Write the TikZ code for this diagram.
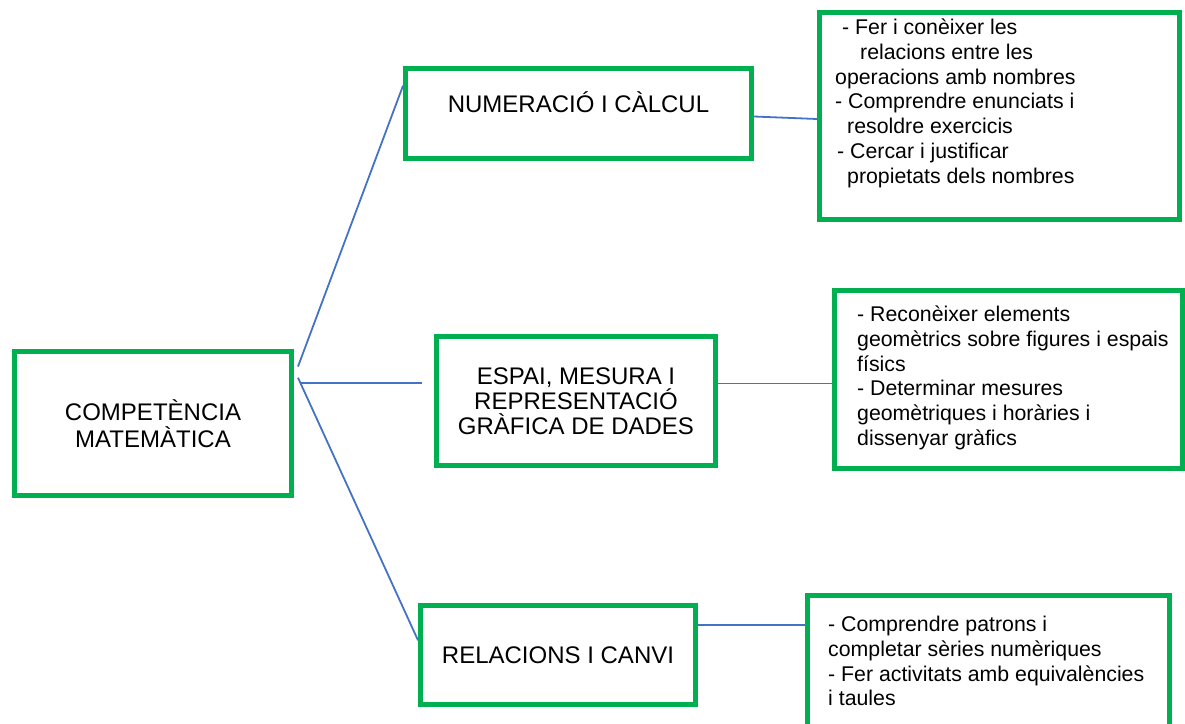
\documentclass[tikz,border=0pt]{standalone}
\usepackage{fontspec}
\setmainfont{Liberation Sans}
\usetikzlibrary{positioning,calc}
\definecolor{verd}{RGB}{0,176,80}
\definecolor{blaulinia}{RGB}{68,114,196}

\tikzset{
    caixa/.style={draw=verd, line width=5pt, rectangle, inner sep=0pt, align=center},
    titol/.style={font=\fontsize{24}{25}\selectfont},
    llista/.style={font=\fontsize{21.3}{24.7}\selectfont, align=left, anchor=north west, inner sep=0pt},
    lligam/.style={draw=blaulinia, line width=1.8pt}
}

\begin{document}
\begin{tikzpicture}[x=1pt, y=-1pt]

    \useasboundingbox (0,0) rectangle (1185,723);

    % Caixa principal
    \node[caixa, minimum width=277pt, minimum height=144pt, font=\fontsize{24}{27}\selectfont] (comp) at (153,423.5) {COMPETÈNCIA\\MATEMÀTICA};

    % Blocs de continguts
    \node[caixa, minimum width=346pt, minimum height=90pt] (num) at (578.5,113.5) {};
    \node[titol, inner sep=0pt, anchor=base] (numtxt) at (578.5,112.6) {NUMERACIÓ I CÀLCUL};

    \node[caixa, titol, minimum width=279pt, minimum height=129pt] (espai) at (576,401) {ESPAI, MESURA I\\REPRESENTACIÓ\\GRÀFICA DE DADES};

    \node[caixa, titol, minimum width=275pt, minimum height=99pt] (rel) at (558,655) {RELACIONS I CANVI};

    % Caixes de descripcio
    \node[caixa, minimum width=360pt, minimum height=207pt] (fites1) at (999.5,116) {};
    \node[llista] (fites1txt) at (835,19) {
        \hspace*{7pt}- Fer i conèixer les\\
        \hspace*{25pt}relacions entre les\\
        operacions amb nombres\\
        - Comprendre enunciats i\\
        \hspace*{12pt}resoldre exercicis\\
        \hspace*{2pt}- Cercar i justificar\\
        \hspace*{12pt}propietats dels nombres
    };

    \node[caixa, minimum width=348pt, minimum height=178pt] (fites2) at (1008.5,379.5) {};
    \node[llista] (fites2txt) at (857,306) {
        - Reconèixer elements\\
        geomètrics sobre figures i espais\\
        físics\\
        - Determinar mesures\\
        geomètriques i horàries i\\
        dissenyar gràfics
    };

    \node[caixa, minimum width=362pt, minimum height=150pt] (fites3) at (988.5,670.5) {};
    \node[llista] (fites3txt) at (828,616) {
        - Comprendre patrons i\\
        completar sèries numèriques\\
        - Fer activitats amb equivalències\\
        i taules
    };

    % Lligams
    \draw[lligam] ([xshift=4pt]comp.22) -- (num.171);
    \draw[lligam, shorten <=6pt, shorten >=12pt] (comp.16) -- (comp.16 -| espai.west);
    \draw[lligam] ([xshift=4pt]comp.18) -- (rel.174);

    \draw[lligam] ([yshift=-3pt]num.east) -- ([yshift=-3pt]fites1.west);
    \draw[lligam] (espai.7) -- (espai.7 -| fites2.west);
    \draw[lligam] (rel.12) -- (rel.12 -| fites3.west);

\end{tikzpicture}
\end{document}
